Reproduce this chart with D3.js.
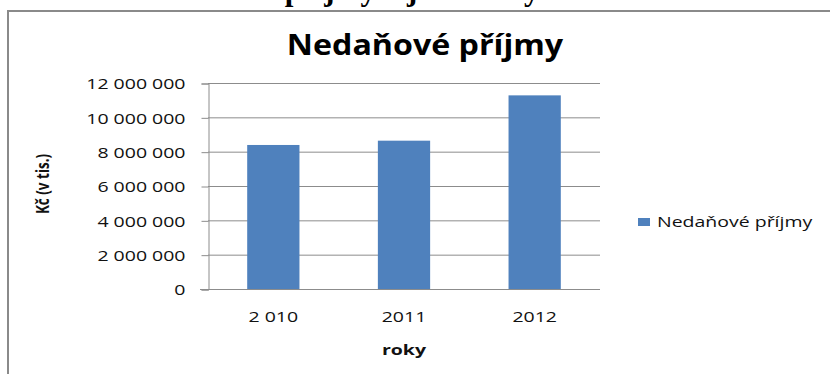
<!DOCTYPE html>
<html lang="cs">

<head>
    <meta charset="UTF-8">
    <script src="https://cdnjs.cloudflare.com/ajax/libs/d3/7.8.5/d3.min.js" type="text/JavaScript"></script>
    <title>Nedaňové příjmy</title>
    <style>
        body { margin: 0; background: #fff; }
        svg { display: block; }
        text { font-family: "Open Sans", sans-serif; fill: #111; }
    </style>
</head>

<body>
    <svg width="830" height="374"></svg>
    <script>
        // data
        var years = ["2 010", "2011", "2012"];
        var values = [8390000, 8640000, 11280000];
        var yTicks = [0, 2000000, 4000000, 6000000, 8000000, 10000000, 12000000];
        var seriesName = "Nedaňové příjmy";

        var svg = d3.select("svg");
        var sx = 1.3; // the original chart is stretched horizontally
        var grid = "#8c8c8c";

        var cz = d3.formatLocale({ decimal: ",", thousands: " ", grouping: [3], currency: ["", " Kč"] });
        var fmt = cz.format(",");

        // heading of the page above, only its descenders are visible
        svg.append("text")
            .attr("x", 146)
            .attr("y", -0.5)
            .style("font-family", "'Liberation Serif', serif")
            .style("font-weight", "bold")
            .style("font-size", "31px")
            .style("fill", "#000")
            .text("Nedaňové příjmy v jednotlivých letech");

        // chart frame
        svg.append("rect")
            .attr("x", 8).attr("y", 11)
            .attr("width", 900).attr("height", 400)
            .attr("fill", "none")
            .attr("stroke", "#8a8a8a")
            .attr("stroke-width", 2);

        var xScale = d3.scaleBand().domain(years).range([208, 600]).paddingInner(0.6).paddingOuter(0.3);
        var yScale = d3.scaleLinear().domain([0, 12000000]).range([289, 83]);

        // gridlines
        svg.append("g")
            .selectAll("line")
            .data(yTicks.slice(1))
            .enter()
            .append("line")
            .attr("x1", 208).attr("x2", 600)
            .attr("y1", d => yScale(d) + 0.5).attr("y2", d => yScale(d) + 0.5)
            .attr("stroke", grid);

        // y axis
        var yAxis = d3.axisLeft(yScale).tickValues(yTicks).tickSize(7).tickFormat(fmt);
        var yG = svg.append("g").attr("transform", "translate(208.5,0.5)").call(yAxis);
        yG.select(".domain").attr("stroke", grid);
        yG.selectAll(".tick line").attr("stroke", grid);
        yG.selectAll(".tick text")
            .attr("x", 0)
            .attr("dy", "0.36em")
            .attr("transform", "translate(-23,0) scale(" + sx + ",1)")
            .style("font-size", "15px")
            .style("font-family", "'Open Sans', sans-serif")
            .style("fill", "#111");

        // bars
        svg.append("g")
            .selectAll("rect")
            .data(values)
            .enter()
            .append("rect")
            .attr("x", (d, i) => xScale(years[i]))
            .attr("y", d => yScale(d))
            .attr("width", xScale.bandwidth())
            .attr("height", d => yScale(0) - yScale(d))
            .attr("fill", "#4f81bd");

        // x axis
        var xAxisScale = d3.scaleBand().domain(years).range([208, 600]);
        var xAxis = d3.axisBottom(xAxisScale).tickSize(0);
        var xG = svg.append("g").attr("transform", "translate(0,289.5)").call(xAxis);
        xG.select(".domain").attr("stroke", grid).attr("d", "M200,0H600");
        xG.selectAll(".tick text")
            .attr("y", 0)
            .attr("dy", 0)
            .attr("transform", "translate(0,32) scale(" + sx + ",1)")
            .style("font-size", "15px")
            .style("font-family", "'Open Sans', sans-serif")
            .style("fill", "#111");

        // axis titles
        svg.append("g")
            .attr("transform", "translate(404,355) scale(" + sx + ",1)")
            .append("text")
            .attr("text-anchor", "middle")
            .style("font-weight", "bold")
            .style("font-size", "15px")
            .text("roky");

        svg.append("text")
            .attr("transform", "translate(49,184) rotate(-90) scale(1," + sx + ")")
            .attr("text-anchor", "middle")
            .style("font-weight", "bold")
            .style("font-size", "13.5px")
            .text("Kč (v tis.)");

        // title
        svg.append("g")
            .attr("transform", "translate(425,55) scale(1.15,1)")
            .append("text")
            .attr("text-anchor", "middle")
            .style("font-weight", "bold")
            .style("font-size", "28px")
            .style("fill", "#000")
            .text(seriesName);

        // legend
        var legend = svg.append("g").attr("transform", "translate(638,218)");
        legend.append("rect")
            .attr("width", 12).attr("height", 8)
            .attr("fill", "#4f81bd");
        legend.append("g")
            .attr("transform", "translate(19,9) scale(" + sx + ",1)")
            .append("text")
            .style("font-size", "15px")
            .text(seriesName);
    </script>
</body>

</html>
